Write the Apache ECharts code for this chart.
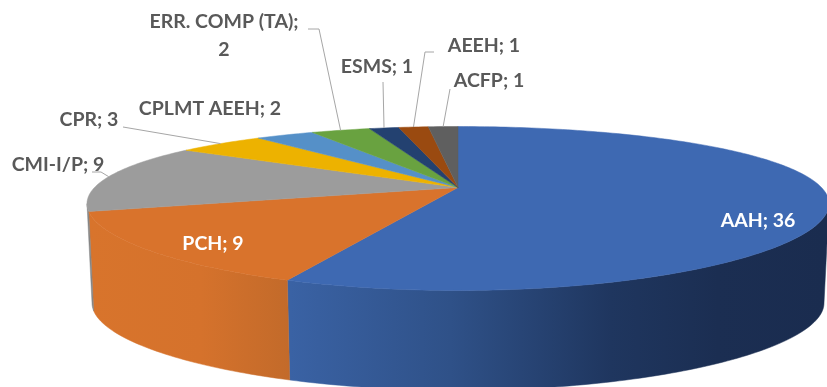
<!DOCTYPE html>
<html>
<head>
<meta charset="utf-8">
<style>html,body{margin:0;padding:0;background:#fff}#chart{width:827px;height:387px}</style>
<script src="https://cdn.jsdelivr.net/npm/echarts@6/dist/echarts.min.js"></script>
</head>
<body>
<div id="chart"></div>
<script>
// Slices, clockwise from twelve o'clock
const categories = ['AAH', 'PCH', 'CMI-I/P', 'CPR', 'CPLMT AEEH', 'ERR. COMP (TA)', 'ESMS', 'AEEH', 'ACFP'];
const values = [36, 9, 9, 3, 2, 2, 1, 1, 1];
const topColors = ['#3e69b2', '#d9732c', '#9c9c9c', '#edb200', '#5590c8', '#69a240', '#234170', '#9a4a10', '#5f5f5f'];

// Label centres, and the bend points of each leader line before it meets the rim
const labelCentres = {
  'AAH': [758, 221], 'PCH': [213, 244], 'CMI-I/P': [58, 165], 'CPR': [89, 120],
  'CPLMT AEEH': [210, 109], 'ERR. COMP (TA)': [224, 36], 'ESMS': [377, 67],
  'AEEH': [484, 46], 'ACFP': [489, 81]
};
const leaderBends = {
  'CMI-I/P': [[92, 172], [101, 172]], 'CPR': [[123, 127]],
  'ERR. COMP (TA)': [[308, 29], [319, 29]], 'ESMS': [[383, 82]],
  'AEEH': [[434, 52], [425, 52]], 'ACFP': [[450, 89]]
};
const lightLabels = ['AAH', 'PCH'];
const wrappedLabels = ['ERR. COMP (TA)'];
const unledLabels = ['AAH', 'PCH', 'CPLMT AEEH'];

// Perspective of the disc: the pivot sits above the centre of the visible ellipse
const topFace = { cx: 458, cy: 187.5, rx: 363.5, ry: 76.6 };
const bottomFace = { cx: 458, cy: 286.8, rx: 358.6, ry: 77 };
const KX = 0.2, KY = 0.256;

function project(face, deg) {
  const a = deg * Math.PI / 180, u = Math.sin(a), v = -Math.cos(a);
  return [face.cx + face.rx * u / (1 - KX * v), face.cy + face.ry * v / (1 - KY * v)];
}
function arc(face, from, to) {
  const pts = [], n = Math.max(2, Math.ceil(Math.abs(to - from)));
  for (let i = 0; i <= n; i++) pts.push(project(face, from + (to - from) * i / n));
  return pts;
}

const total = values.reduce((s, x) => s + x, 0);
// Part of the side wall that faces the viewer
const wallFrom = Math.acos(-KX) * 180 / Math.PI, wallTo = 360 - wallFrom;

const grad = (x0, x1, stops) => new echarts.graphic.LinearGradient(x0, 0, x1, 0,
  stops.map(([offset, color]) => ({ offset, color })), true);
const wallFills = {
  'AAH': grad(290, 825, [[0, '#3a62a4'], [0.3, '#2f5188'], [0.6, '#1f365f'], [0.8, '#1b2e52'], [1, '#1a2c4f']]),
  'PCH': grad(90, 292, [[0, '#d8742c'], [0.55, '#d5722c'], [1, '#c26a2a']]),
  'CMI-I/P': '#858585'
};

function renderSlice(params, api) {
  const i = params.dataIndex, name = categories[i], value = api.value(0);
  let before = 0;
  for (let k = 0; k < i; k++) before += values[k];
  const start = before / total * 360, end = start + value / total * 360, mid = (start + end) / 2;
  const children = [];

  // Side wall
  const a = Math.max(start, wallFrom), b = Math.min(end, wallTo);
  if (b > a) {
    const rim = arc(topFace, a, b), foot = arc(bottomFace, b, a);
    const fill = wallFills[name];
    children.push({ type: 'polygon', z2: 1, shape: { points: rim.concat(foot) },
      style: { fill, stroke: fill, lineWidth: 0.5 } });
  }

  // Top face
  const face = [[topFace.cx, topFace.cy]].concat(arc(topFace, start, end));
  children.push({ type: 'polygon', z2: 2, shape: { points: face },
    style: { fill: topColors[i], stroke: topColors[i], lineWidth: 0.5 } });

  // Leader line
  if (!unledLabels.includes(name)) {
    children.push({ type: 'polyline', z2: 3,
      shape: { points: leaderBends[name].concat([project(topFace, mid)]) },
      style: { fill: 'none', stroke: '#a6a6a6', lineWidth: 1 } });
  }

  // Value label
  const sep = wrappedLabels.includes(name) ? ';\n' : '; ';
  const [lx, ly] = labelCentres[name];
  children.push({ type: 'text', z2: 4,
    style: { text: name + sep + value, x: lx, y: ly, align: 'center', verticalAlign: 'middle',
      fill: lightLabels.includes(name) ? '#ffffff' : '#595959',
      font: 'bold 19.5px Lato, "Open Sans", sans-serif', lineHeight: 28 } });

  return { type: 'group', children };
}

const chart = echarts.init(document.getElementById('chart'), null, { renderer: 'canvas' });
chart.setOption({
  backgroundColor: '#ffffff',
  animation: false,
  series: [{
    type: 'custom',
    coordinateSystem: 'none',
    clip: false,
    data: values,
    renderItem: renderSlice
  }]
});
</script>
</body>
</html>
